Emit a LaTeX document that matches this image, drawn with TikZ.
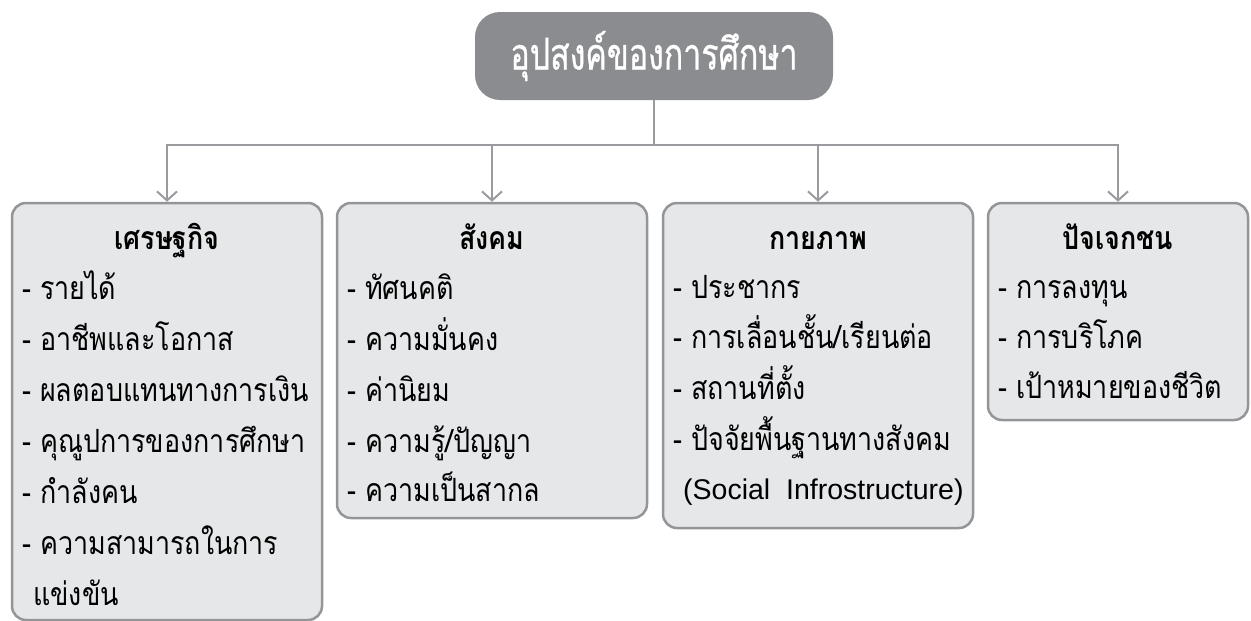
\documentclass[tikz,border=0pt]{standalone}
\usepackage{fontspec}
\newfontfamily\thaifont[Script=Thai, FakeStretch=0.84]{Loma}
\newfontfamily\titlefont[Script=Thai, FakeStretch=0.73, FakeBold=0.6]{Loma}
\newfontfamily\latinfont{Liberation Sans}
\usetikzlibrary{arrows.meta}
\definecolor{titlegray}{HTML}{8B8C8F}
\definecolor{boxfill}{HTML}{E6E7E9}
\definecolor{boxline}{HTML}{939598}
\definecolor{linkgray}{HTML}{9A9B9E}
\tikzset{
  titlebox/.style={draw=none, fill=titlegray, rounded corners=25pt, minimum width=358pt, minimum height=88pt, inner sep=0pt,
    font=\titlefont\fontsize{44}{50}\selectfont, text=white},
  catbox/.style={draw=boxline, line width=2.5pt, fill=boxfill, rounded corners=14pt, inner sep=0pt},
  heading/.style={anchor=base, font=\thaifont\bfseries\fontsize{32}{36}\selectfont, inner sep=0pt},
  item/.style={anchor=base west, font=\thaifont\fontsize{32}{36}\selectfont, inner sep=0pt},
  link/.style={draw=linkgray, line width=2pt},
  arr/.style={link, -{Straight Barb[length=9pt, width=20pt, line width=2pt]}}
}
\begin{document}
\begin{tikzpicture}[x=1pt, y=-1pt]
\useasboundingbox (0,0) rectangle (1251,621);
% boxes
\node[catbox, minimum width=310pt, minimum height=417pt] (b1) at (167,411.5) {};
\node[catbox, minimum width=310pt, minimum height=315pt] (b2) at (492,360.5) {};
\node[catbox, minimum width=310pt, minimum height=325pt] (b3) at (818,365.5) {};
\node[catbox, minimum width=260pt, minimum height=217pt] (b4) at (1118,311.5) {};
% title
\node[titlebox] (t) at (654,56) {อุปสงค์ของการศึกษา};
% connectors
\coordinate (bus) at (654,145);
\draw[link] (t.south) -- (bus);
\draw[arr] (bus) -| (b1.north);
\draw[arr] (bus) -| (b2.north);
\draw[arr] (bus) -| (b3.north);
\draw[arr] (bus) -| (b4.north);
% box 1
\node[heading] (h1) at (167,249) {เศรษฐกิจ};
\node[item] (i11) at (22,299) {- รายได้};
\node[item] (i12) at (22,350) {- อาชีพและโอกาส};
\node[item] (i13) at (22,401) {- ผลตอบแทนทางการเงิน};
\node[item] (i14) at (22,452) {- คุณูปการของการศึกษา};
\node[item] (i15) at (22,503) {- กำลังคน};
\node[item] (i16) at (22,554) {- ความสามารถในการ};
\node[item] (i17) at (33,605) {แข่งขัน};
% box 2
\node[heading] (h2) at (492,249) {สังคม};
\node[item] (i21) at (347,299) {- ทัศนคติ};
\node[item] (i22) at (347,350) {- ความมั่นคง};
\node[item] (i23) at (347,401) {- ค่านิยม};
\node[item] (i24) at (347,452) {- ความรู้/ปัญญา};
\node[item] (i25) at (347,501) {- ความเป็นสากล};
% box 3
\node[heading] (h3) at (818,249) {กายภาพ};
\node[item] (i31) at (673,298) {- ประชากร};
\node[item] (i32) at (673,348) {- การเลื่อนชั้น/เรียนต่อ};
\node[item] (i33) at (673,399) {- สถานที่ตั้ง};
\node[item] (i34) at (673,450) {- ปัจจัยพื้นฐานทางสังคม};
\node[item, font=\latinfont\fontsize{28.5}{32}\selectfont] (i35) at (683,499) {(Social\ \ Infrostructure)};
% box 4
\node[heading] (h4) at (1118,249) {ปัจเจกชน};
\node[item] (i41) at (998,298) {- การลงทุน};
\node[item] (i42) at (998,348) {- การบริโภค};
\node[item] (i43) at (998,398) {- เป้าหมายของชีวิต};
\end{tikzpicture}
\end{document}
